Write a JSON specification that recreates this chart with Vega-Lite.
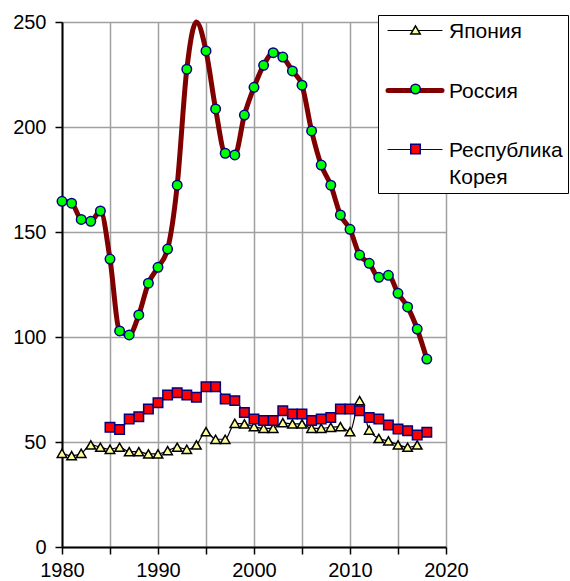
{
  "$schema": "https://vega.github.io/schema/vega-lite/v6.json",
  "width": 384,
  "height": 525,
  "autosize": {"type": "none"},
  "padding": {"left": 62, "top": 22, "right": 124, "bottom": 34},
  "background": "white",
  "config": {
    "view": {"stroke": null},
    "axis": {
      "gridColor": "#a0a0a0",
      "gridWidth": 1.5,
      "domainColor": "black",
      "domainWidth": 2,
      "tickColor": "black",
      "tickWidth": 1.5,
      "tickSize": 7,
      "labelFont": "Liberation Sans",
      "labelFontSize": 20,
      "labelColor": "black",
      "title": null
    }
  },
  "data": {
    "values": [
      {"country": "Япония", "year": 1980, "value": 44.6},
      {"country": "Япония", "year": 1981, "value": 43.5},
      {"country": "Япония", "year": 1982, "value": 44.6},
      {"country": "Япония", "year": 1983, "value": 48.6},
      {"country": "Япония", "year": 1984, "value": 47.5},
      {"country": "Япония", "year": 1985, "value": 46.5},
      {"country": "Япония", "year": 1986, "value": 47.5},
      {"country": "Япония", "year": 1987, "value": 45.4},
      {"country": "Япония", "year": 1988, "value": 45.4},
      {"country": "Япония", "year": 1989, "value": 44.3},
      {"country": "Япония", "year": 1990, "value": 44.3},
      {"country": "Япония", "year": 1991, "value": 45.9},
      {"country": "Япония", "year": 1992, "value": 47.5},
      {"country": "Япония", "year": 1993, "value": 46.5},
      {"country": "Япония", "year": 1994, "value": 48.6},
      {"country": "Япония", "year": 1995, "value": 54.9},
      {"country": "Япония", "year": 1996, "value": 51.3},
      {"country": "Япония", "year": 1997, "value": 51.3},
      {"country": "Япония", "year": 1998, "value": 58.9},
      {"country": "Япония", "year": 1999, "value": 58.6},
      {"country": "Япония", "year": 2000, "value": 57.3},
      {"country": "Япония", "year": 2001, "value": 56.5},
      {"country": "Япония", "year": 2002, "value": 56.5},
      {"country": "Япония", "year": 2003, "value": 59.2},
      {"country": "Япония", "year": 2004, "value": 58.6},
      {"country": "Япония", "year": 2005, "value": 58.6},
      {"country": "Япония", "year": 2006, "value": 56.5},
      {"country": "Япония", "year": 2007, "value": 56.5},
      {"country": "Япония", "year": 2008, "value": 57.0},
      {"country": "Япония", "year": 2009, "value": 57.3},
      {"country": "Япония", "year": 2010, "value": 54.9},
      {"country": "Япония", "year": 2011, "value": 69.7},
      {"country": "Япония", "year": 2012, "value": 55.7},
      {"country": "Япония", "year": 2013, "value": 51.7},
      {"country": "Япония", "year": 2014, "value": 50.5},
      {"country": "Япония", "year": 2015, "value": 48.6},
      {"country": "Япония", "year": 2016, "value": 47.5},
      {"country": "Япония", "year": 2017, "value": 48.6},
      {"country": "Россия", "year": 1980, "value": 164.6},
      {"country": "Россия", "year": 1981, "value": 163.7},
      {"country": "Россия", "year": 1982, "value": 156.0},
      {"country": "Россия", "year": 1983, "value": 155.1},
      {"country": "Россия", "year": 1984, "value": 160.0},
      {"country": "Россия", "year": 1985, "value": 137.1},
      {"country": "Россия", "year": 1986, "value": 102.9},
      {"country": "Россия", "year": 1987, "value": 101.0},
      {"country": "Россия", "year": 1988, "value": 110.5},
      {"country": "Россия", "year": 1989, "value": 125.6},
      {"country": "Россия", "year": 1990, "value": 133.2},
      {"country": "Россия", "year": 1991, "value": 141.9},
      {"country": "Россия", "year": 1992, "value": 172.3},
      {"country": "Россия", "year": 1993, "value": 227.5},
      {"country": "Россия", "year": 1994, "value": 250.0},
      {"country": "Россия", "year": 1995, "value": 236.2},
      {"country": "Россия", "year": 1996, "value": 208.6},
      {"country": "Россия", "year": 1997, "value": 187.5},
      {"country": "Россия", "year": 1998, "value": 186.7},
      {"country": "Россия", "year": 1999, "value": 205.7},
      {"country": "Россия", "year": 2000, "value": 218.9},
      {"country": "Россия", "year": 2001, "value": 229.4},
      {"country": "Россия", "year": 2002, "value": 235.4},
      {"country": "Россия", "year": 2003, "value": 233.3},
      {"country": "Россия", "year": 2004, "value": 226.7},
      {"country": "Россия", "year": 2005, "value": 219.9},
      {"country": "Россия", "year": 2006, "value": 198.1},
      {"country": "Россия", "year": 2007, "value": 181.9},
      {"country": "Россия", "year": 2008, "value": 172.3},
      {"country": "Россия", "year": 2009, "value": 158.1},
      {"country": "Россия", "year": 2010, "value": 151.3},
      {"country": "Россия", "year": 2011, "value": 139.0},
      {"country": "Россия", "year": 2012, "value": 135.1},
      {"country": "Россия", "year": 2013, "value": 128.4},
      {"country": "Россия", "year": 2014, "value": 129.4},
      {"country": "Россия", "year": 2015, "value": 120.8},
      {"country": "Россия", "year": 2016, "value": 114.3},
      {"country": "Россия", "year": 2017, "value": 103.8},
      {"country": "Россия", "year": 2018, "value": 89.5},
      {"country": "Республика Корея", "year": 1985, "value": 57.0},
      {"country": "Республика Корея", "year": 1986, "value": 56.0},
      {"country": "Республика Корея", "year": 1987, "value": 61.0},
      {"country": "Республика Корея", "year": 1988, "value": 62.0},
      {"country": "Республика Корея", "year": 1989, "value": 65.7},
      {"country": "Республика Корея", "year": 1990, "value": 68.7},
      {"country": "Республика Корея", "year": 1991, "value": 72.4},
      {"country": "Республика Корея", "year": 1992, "value": 73.5},
      {"country": "Республика Корея", "year": 1993, "value": 72.4},
      {"country": "Республика Корея", "year": 1994, "value": 71.3},
      {"country": "Республика Корея", "year": 1995, "value": 76.3},
      {"country": "Республика Корея", "year": 1996, "value": 76.3},
      {"country": "Республика Корея", "year": 1997, "value": 70.5},
      {"country": "Республика Корея", "year": 1998, "value": 69.7},
      {"country": "Республика Корея", "year": 1999, "value": 64.1},
      {"country": "Республика Корея", "year": 2000, "value": 61.0},
      {"country": "Республика Корея", "year": 2001, "value": 60.2},
      {"country": "Республика Корея", "year": 2002, "value": 60.2},
      {"country": "Республика Корея", "year": 2003, "value": 64.9},
      {"country": "Республика Корея", "year": 2004, "value": 63.3},
      {"country": "Республика Корея", "year": 2005, "value": 63.3},
      {"country": "Республика Корея", "year": 2006, "value": 60.2},
      {"country": "Республика Корея", "year": 2007, "value": 61.0},
      {"country": "Республика Корея", "year": 2008, "value": 61.7},
      {"country": "Республика Корея", "year": 2009, "value": 65.7},
      {"country": "Республика Корея", "year": 2010, "value": 65.7},
      {"country": "Республика Корея", "year": 2011, "value": 64.9},
      {"country": "Республика Корея", "year": 2012, "value": 61.7},
      {"country": "Республика Корея", "year": 2013, "value": 61.0},
      {"country": "Республика Корея", "year": 2014, "value": 58.1},
      {"country": "Республика Корея", "year": 2015, "value": 56.2},
      {"country": "Республика Корея", "year": 2016, "value": 55.4},
      {"country": "Республика Корея", "year": 2017, "value": 53.3},
      {"country": "Республика Корея", "year": 2018, "value": 54.6}
    ]
  },
  "encoding": {
    "x": {
      "field": "year",
      "type": "quantitative",
      "scale": {"domain": [1980, 2020], "nice": false, "zero": false},
      "axis": {
        "values": [1980, 1985, 1990, 1995, 2000, 2005, 2010, 2015, 2020],
        "format": "d",
        "labelExpr": "datum.value % 10 == 0 ? datum.label : ''",
        "labelPadding": 6,
        "labelFlush": false,
        "labelOverlap": false
      }
    },
    "y": {
      "field": "value",
      "type": "quantitative",
      "scale": {"domain": [0, 250], "nice": false},
      "axis": {
        "values": [0, 50, 100, 150, 200, 250],
        "labelPadding": 9,
        "labelFlush": false,
        "labelOverlap": false
      }
    }
  },
  "layer": [
    {
      "mark": {"type": "line", "interpolate": "monotone", "strokeCap": "round", "strokeJoin": "round"},
      "encoding": {
        "stroke": {
          "field": "country",
          "type": "nominal",
          "scale": {"domain": ["Япония", "Россия", "Республика Корея"], "range": ["#000000", "#800000", "#000080"]},
          "legend": {
            "title": null, "orient": "none", "legendX": 316, "legendY": -7,
            "padding": 5, "fillColor": "white", "strokeColor": "black",
            "symbolType": "M-3,0H3", "symbolSize": 324, "symbolOffset": 20.5, "labelOffset": 22.5,
            "labelFont": "Liberation Sans", "labelFontSize": 21, "labelColor": "black", "labelLimit": 300,
            "labelBaseline": "alphabetic", "rowPadding": 37,
            "labelExpr": "datum.label == 'Республика Корея' ? ['Республика', 'Корея'] : datum.label",
            "encode": {"labels": {"update": {"lineHeight": {"value": 27}, "dy": {"value": 7}}}, "symbols": {"update": {"strokeCap": {"value": "round"}}}}
          }
        },
        "strokeWidth": {
          "field": "country",
          "type": "nominal",
          "scale": {"type": "ordinal", "domain": ["Япония", "Россия", "Республика Корея"], "range": [1.2, 5, 1.2]},
          "legend": {
            "title": null, "orient": "none", "legendX": 316, "legendY": -7,
            "padding": 5, "fillColor": "white", "strokeColor": "black",
            "symbolType": "M-3,0H3", "symbolSize": 324, "symbolOffset": 20.5, "labelOffset": 22.5,
            "labelFont": "Liberation Sans", "labelFontSize": 21, "labelColor": "black", "labelLimit": 300,
            "labelBaseline": "alphabetic", "rowPadding": 37,
            "labelExpr": "datum.label == 'Республика Корея' ? ['Республика', 'Корея'] : datum.label",
            "encode": {"labels": {"update": {"lineHeight": {"value": 27}, "dy": {"value": 7}}}, "symbols": {"update": {"strokeCap": {"value": "round"}}}}
          }
        }
      }
    },
    {
      "transform": [{"filter": "!(datum.country == 'Россия' && datum.year == 1994)"}],
      "mark": {"type": "point", "filled": true, "size": 90, "strokeWidth": 1.5, "opacity": 1},
      "encoding": {
        "shape": {
          "field": "country",
          "type": "nominal",
          "scale": {"domain": ["Япония", "Россия", "Республика Корея"], "range": ["triangle-up", "circle", "square"]},
          "legend": {
            "title": null, "orient": "none", "legendX": 343, "legendY": -2.5,
            "padding": 5, "symbolSize": 90, "symbolStrokeWidth": 1.5, "symbolOpacity": 1,
            "labelExpr": "''", "labelOffset": 0, "rowPadding": 43
          }
        },
        "fill": {
          "field": "country",
          "type": "nominal",
          "scale": {"domain": ["Япония", "Россия", "Республика Корея"], "range": ["#FFFF99", "#00FF00", "#FF0000"]},
          "legend": {
            "title": null, "orient": "none", "legendX": 343, "legendY": -2.5,
            "padding": 5, "symbolSize": 90, "symbolStrokeWidth": 1.5, "symbolOpacity": 1,
            "labelExpr": "''", "labelOffset": 0, "rowPadding": 43
          }
        },
        "stroke": {
          "field": "country",
          "type": "nominal",
          "scale": {"domain": ["Япония", "Россия", "Республика Корея"], "range": ["#000000", "#000080", "#000080"]},
          "legend": {
            "title": null, "orient": "none", "legendX": 343, "legendY": -2.5,
            "padding": 5, "symbolSize": 90, "symbolStrokeWidth": 1.5, "symbolOpacity": 1,
            "labelExpr": "''", "labelOffset": 0, "rowPadding": 43
          }
        }
      }
    }
  ],
  "resolve": {"scale": {"stroke": "independent", "strokeWidth": "independent", "shape": "independent", "fill": "independent"}}
}
